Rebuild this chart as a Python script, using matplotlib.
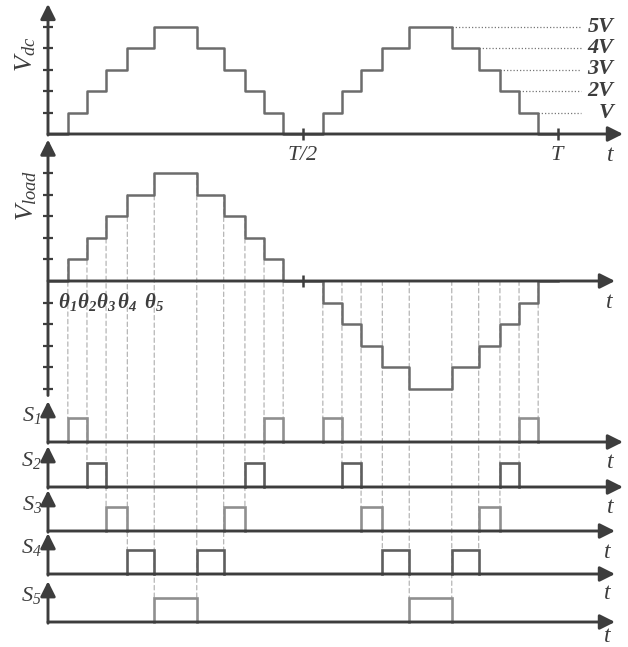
import matplotlib
matplotlib.use('Agg')
import matplotlib.pyplot as plt
from matplotlib.patches import ConnectionPatch

# ── Données : angles de commutation (deg) et niveaux ──────────
theta      = [14, 27.5, 41, 56, 75]
levels     = [1, 2, 3, 4, 5]
lvl_labels = ['V', '2V', '3V', '4V', '5V']
sw_names   = [r'$S_1$', r'$S_2$', r'$S_3$', r'$S_4$', r'$S_5$']
th_names   = [r'$\mathbf{\theta_1}$', r'$\mathbf{\theta_2}$', r'$\mathbf{\theta_3}$',
              r'$\mathbf{\theta_4}$', r'$\mathbf{\theta_5}$']
half   = 180
period = 360

# escalier sur une demi-période
stair_t = [0] + theta + [half - th for th in reversed(theta)]
stair_v = [0] + levels + [l - 1 for l in reversed(levels)]

t_full = stair_t + [half + t for t in stair_t] + [period]
v_dc   = stair_v + stair_v + [0]
v_load = stair_v + [-v for v in stair_v] + [0]

# ── Style ─────────────────────────────────────────────────────
AX_C   = '#3d3d3d'
WAVE_C = '#6c6c6c'
SW_C   = ['#8f8f8f', '#5e5e5e', '#8f8f8f', '#5e5e5e', '#8f8f8f']
DASH_C = '#b5b5b5'

plt.rcParams['font.family'] = 'Liberation Serif'
plt.rcParams['mathtext.fontset'] = 'custom'
plt.rcParams['mathtext.it'] = 'Liberation Serif:italic'
plt.rcParams['mathtext.rm'] = 'Liberation Serif:italic'
plt.rcParams['mathtext.bf'] = 'Liberation Serif:bold:italic'

W, H = 628, 647
fig = plt.figure(figsize=(W / 100, H / 100), dpi=100)

X0 = 48
PX_DEG = 255 / 180
XLIM = (-X0 / PX_DEG, (W - X0) / PX_DEG)

ARROW = dict(arrowstyle='-|>,head_length=0.6,head_width=0.3', color=AX_C,
             lw=2.1, mutation_scale=15, shrinkA=0, shrinkB=0)


def panel(top, bottom, base, unit):
    ax = fig.add_axes([0, 1 - bottom / H, 1, (bottom - top) / H])
    ax.set_xlim(*XLIM)
    ax.set_ylim((base - bottom) / unit, (base - top) / unit)
    ax.axis('off')
    return ax


def arrow(ax, start, end):
    ax.annotate('', xy=end, xytext=start, arrowprops=ARROW,
                annotation_clip=False, zorder=4)


def t_label(ax, x, y):
    ax.text(x, y, 't', fontsize=17, style='italic', color=AX_C,
            ha='center', va='center')


TX_LONG  = (623 - X0) / PX_DEG
TX_SHORT = (615 - X0) / PX_DEG

# ── Vdc ───────────────────────────────────────────────────────
ax_dc = panel(0, 165, 134, 21.5)
ax_dc.step(t_full, v_dc, where='post', color=WAVE_C, lw=1.8, zorder=2)
arrow(ax_dc, (0, -0.05), (0, 6.05))
arrow(ax_dc, (0, 0), (TX_LONG, 0))
ax_dc.hlines(levels, -3.6, 3.6, color=AX_C, lw=1.6, zorder=4)
ax_dc.vlines([half, period], -0.28, 0.28, color=AX_C, lw=1.8, zorder=4)
ax_dc.text(-16, 3.7, r'$V_{dc}$', rotation=90, fontsize=19, color=AX_C,
           ha='center', va='center')
ax_dc.text(half, -1.0, r'$T/2$', fontsize=16, color=AX_C, ha='center', va='center')
ax_dc.text(period, -1.0, r'$T$', fontsize=16, color=AX_C, ha='center', va='center')
t_label(ax_dc, 397, -1.0)

# pointillés vers les niveaux
for th, lv, lab in zip(theta, levels, lvl_labels):
    ax_dc.hlines(lv, period - th, 376, color='#777777', lw=0.9,
                 linestyles=(0, (1, 1.6)), zorder=1)
    ax_dc.text(399, lv, lab, fontsize=16, fontweight='bold', style='italic',
               color=AX_C, ha='right', va='center')

# ── Vload ─────────────────────────────────────────────────────
ax_load = panel(138, 400, 281, 21.6)
ax_load.step(t_full, v_load, where='post', color=WAVE_C, lw=1.8, zorder=2)
arrow(ax_load, (0, -5.3), (0, 6.55))
arrow(ax_load, (0, 0), (TX_SHORT, 0))
ax_load.hlines(levels + [-l for l in levels], -3.6, 3.6, color=AX_C, lw=1.6, zorder=4)
ax_load.vlines([half], -0.28, 0.28, color=AX_C, lw=1.8, zorder=4)
ax_load.text(-15, 3.95, r'$V_{load}$', rotation=90, fontsize=19, color=AX_C,
             ha='center', va='center')
t_label(ax_load, 396, -1.0)
for th, name in zip(theta, th_names):
    ax_load.text(th, -0.95, name, fontsize=15, color=AX_C, ha='center', va='center')

# ── Interrupteurs S1..S5 ──────────────────────────────────────
sw_base = [442, 487, 531, 574, 622]
sw_tip  = [TX_LONG, TX_LONG, TX_SHORT, TX_SHORT, TX_SHORT]
sw_tx   = [397, 397, 394.5, 394.5, 394.5]
sw_ty   = [-0.85, -0.85, -0.88, -0.8, -0.62]
ax_sw = []
for k, (base, name) in enumerate(zip(sw_base, sw_names)):
    ax = panel(base - 45, base + 25, base, 24)
    arrow(ax, (0, -0.05), (0, 1.7))
    arrow(ax, (0, 0), (sw_tip[k], 0))
    ax.text(-11.5, 1.1, name, fontsize=16, color=AX_C, ha='center', va='center')
    t_label(ax, sw_tx[k], sw_ty[k])
    ax_sw.append(ax)

# S_k conduit quand |v_load| == k
for i in range(len(t_full) - 1):
    lv = abs(v_load[i])
    if lv == 0:
        continue
    a, b = t_full[i], t_full[i + 1]
    ax_sw[lv - 1].plot([a, a, b, b], [0, 1, 1, 0], color=SW_C[lv - 1],
                       lw=1.9, zorder=2, solid_joinstyle='miter')

# ── Traits verticaux en tirets ────────────────────────────────
edges = theta + [half - th for th in reversed(theta)]
edge_lvl = levels + levels[::-1]
for h in (0, 1):
    for te, k in zip(edges, edge_lvl):
        t = te + h * half
        y0 = k if h == 0 else 0
        con = ConnectionPatch(xyA=(t, y0), coordsA=ax_load.transData,
                              xyB=(t, 1), coordsB=ax_sw[k - 1].transData,
                              color=DASH_C, lw=0.9, linestyle=(0, (3.5, 2.5)),
                              zorder=0.5)
        ax_load.add_artist(con)
        con.set_clip_on(False)

fig.savefig('out.png', dpi=100, facecolor='white')
